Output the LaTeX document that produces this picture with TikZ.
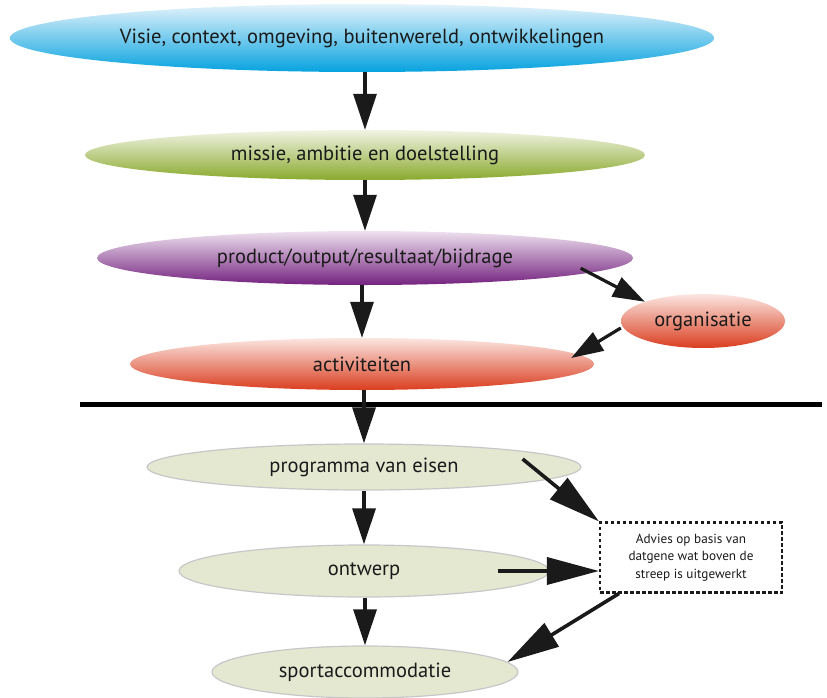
\documentclass[tikz,border=0pt]{standalone}
\usepackage{fontspec}
\setmainfont{PT Sans}
\usetikzlibrary{shapes.geometric,arrows.meta,calc}
\definecolor{visieTop}{HTML}{E4F3FB}
\definecolor{visieBot}{HTML}{06A2DF}
\definecolor{missieTop}{HTML}{F1F4E4}
\definecolor{missieBot}{HTML}{89A92C}
\definecolor{prodTop}{HTML}{EEE2EF}
\definecolor{prodBot}{HTML}{74227F}
\definecolor{actTop}{HTML}{FBE6E1}
\definecolor{actBot}{HTML}{DA3D1F}
\definecolor{beige}{HTML}{E4E8D1}
\definecolor{ink}{HTML}{1A1A1A}

\begin{document}
\begin{tikzpicture}[x=1pt,y=-1pt,
    oval/.style={ellipse,inner sep=0pt,text=ink,font=\fontsize{20.5}{24}\selectfont},
    flat/.style={oval,fill=beige,draw=black!22,line width=1.2pt},
    arr/.style={line width=3.2pt,draw=ink,-{Triangle[length=36pt,width=23pt]}},
    midarr/.style={arr,-{Triangle[length=32pt,width=21pt]}},
    bigarr/.style={line width=3.6pt,draw=ink,-{Triangle[length=52pt,width=27pt]}}]
    \useasboundingbox (0,0) rectangle (827,698);
    \node[oval,top color=visieTop,bottom color=visieBot,minimum width=704pt,minimum height=68pt] (visie) at (362,38)
        {Visie, context, omgeving, buitenwereld, ontwikkelingen};
    \node[oval,top color=missieTop,bottom color=missieBot,minimum width=560pt,minimum height=50pt] (missie) at (365,155)
        {missie, ambitie en doelstelling};
    \node[oval,top color=prodTop,bottom color=prodBot,minimum width=536pt,minimum height=54pt] (product) at (365,258)
        {product/output/resultaat/bijdrage};
    \node[oval,top color=actTop,bottom color=actBot,minimum width=164pt,minimum height=54pt] (org) at (703,321)
        {organisatie};
    \node[oval,top color=actTop,bottom color=actBot,minimum width=464pt,minimum height=52pt] (act) at (362,364)
        {activiteiten};
    \draw[line width=5pt] (80,404) -- (822,404);
    \node[flat,minimum width=434pt,minimum height=46pt] (prog) at (364,467) {programma van eisen};
    \node[flat,minimum width=370pt,minimum height=52pt] (ontw) at (364,571) {ontwerp};
    \node[flat,minimum width=306pt,minimum height=52pt] (sport) at (365,672) {sportaccommodatie};
    \node[draw=ink,line width=2.1pt,dash pattern=on 3.5pt off 2.5pt,minimum width=182pt,minimum height=70pt,
        align=center,text=ink,font=\fontsize{13.2}{17.5}\selectfont] (advies) at (691,557.5)
        {Advies op basis van\\datgene wat boven de\\streep is uitgewerkt};
    \foreach \a/\b in {visie/missie,missie/product,product/act,act/prog,prog/ontw,ontw/sport}
        \draw[arr] (\a.south -| \b.north) -- (\b.north);
    \draw[midarr] ([xshift=26pt,yshift=9pt]product.south east) -- (org.north west);
    \draw[midarr] ([yshift=-7pt]org.west) -- ([xshift=-23pt,yshift=6pt]act.east);
    \draw[bigarr] ([xshift=-59pt,yshift=8pt]prog.east) -- (advies.north west);
    \draw[bigarr] ([xshift=-52pt]ontw.east) -- (ontw -| advies.west);
    \draw[bigarr] ([xshift=20pt]advies.south west) -- (sport.4);
\end{tikzpicture}
\end{document}
